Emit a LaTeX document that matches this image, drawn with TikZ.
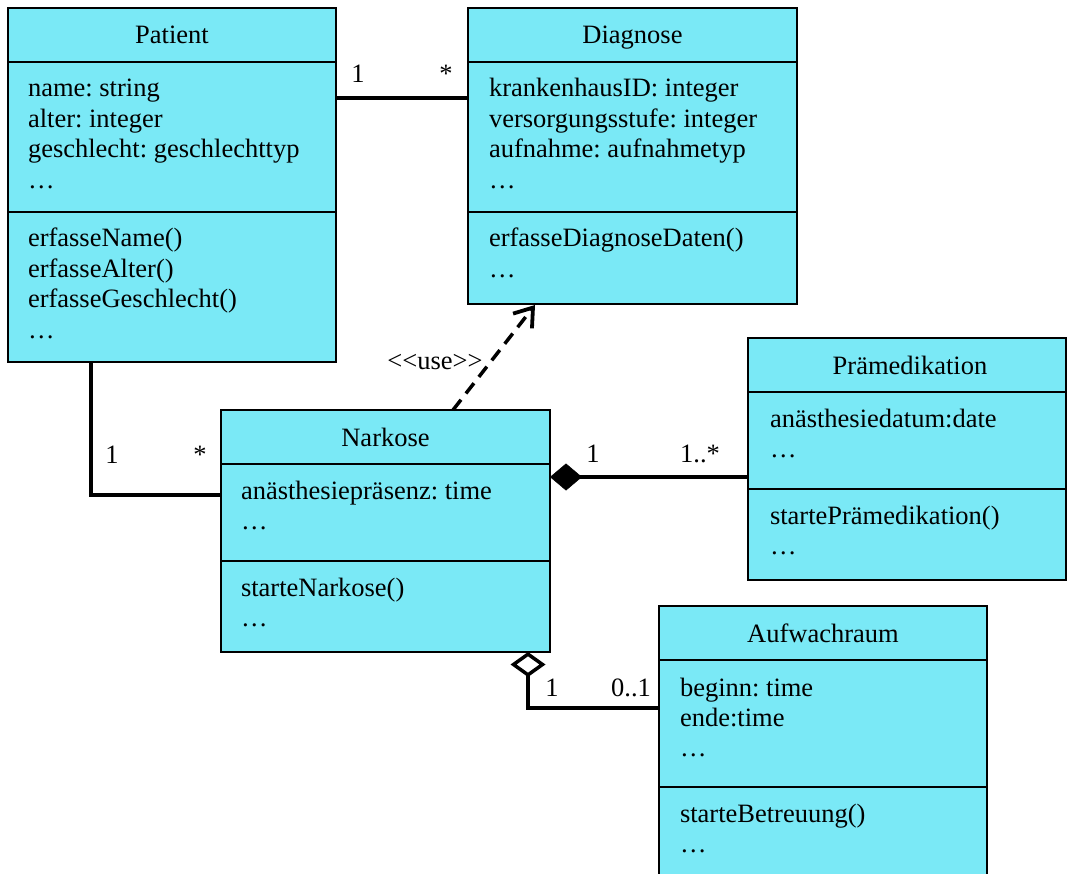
\documentclass[tikz,border=0pt]{standalone}
\usepackage{fontspec}
\setmainfont{Liberation Serif}
\usetikzlibrary{arrows.meta,calc}
\definecolor{classfill}{RGB}{122,233,246}
\frenchspacing
\begin{document}
\begin{tikzpicture}[x=1pt,y=-1pt,
  classbox/.style={draw=black, fill=classfill, line width=1.8pt, rectangle,
    inner sep=0pt, outer sep=0pt, anchor=north west},
  divider/.style={line width=1.8pt},
  txt/.style={font=\fontsize{26.5}{30}\selectfont, inner sep=0pt, outer sep=0pt, anchor=base west},
  ttl/.style={txt, anchor=base},
  mult/.style={txt, anchor=base},
  assoc/.style={line width=3.5pt},
  usedep/.style={line width=3.5pt, dash pattern=on 13pt off 8pt,
    -{Straight Barb[length=17pt,width=24pt,line width=3.8pt]}},
  compo/.style={assoc, {Diamond[length=32pt,width=27pt,line width=0.5pt]}-},
  aggr/.style={assoc, {Diamond[open,length=25pt,width=35pt,line width=3.5pt]}-}]

\useasboundingbox (0,0) rectangle (1067,874);
\clip (0,0) rectangle (1067,874);

% ---------- Patient ----------
\node[classbox, minimum width=328pt, minimum height=354pt] (patient) at (8,8) {};
\draw[divider] ($(patient.north west)+(0,54)$) -- ($(patient.north east)+(0,54)$);
\draw[divider] ($(patient.north west)+(0,204)$) -- ($(patient.north east)+(0,204)$);
\node[ttl] (patient-title) at (172,44) {Patient};
\node[txt] (patient-a1) at (28,97) {name: string};
\node[txt] (patient-a2) at (28,127.5) {alter: integer};
\node[txt] (patient-a3) at (28,158) {geschlecht: geschlechttyp};
\node[txt] (patient-a4) at (28,188.5) {…};
\node[txt] (patient-o1) at (28,247) {erfasseName()};
\node[txt] (patient-o2) at (28,277.5) {erfasseAlter()};
\node[txt] (patient-o3) at (28,308) {erfasseGeschlecht()};
\node[txt] (patient-o4) at (28,338.5) {…};

% ---------- Diagnose ----------
\node[classbox, minimum width=329pt, minimum height=296pt] (diagnose) at (468,8) {};
\draw[divider] ($(diagnose.north west)+(0,54)$) -- ($(diagnose.north east)+(0,54)$);
\draw[divider] ($(diagnose.north west)+(0,204)$) -- ($(diagnose.north east)+(0,204)$);
\node[ttl] (diagnose-title) at (632.5,44) {Diagnose};
\node[txt] (diagnose-a1) at (489,97) {krankenhausID: integer};
\node[txt] (diagnose-a2) at (489,127.5) {versorgungsstufe: integer};
\node[txt] (diagnose-a3) at (489,158) {aufnahme: aufnahmetyp};
\node[txt] (diagnose-a4) at (489,188.5) {…};
\node[txt] (diagnose-o1) at (489,247) {erfasseDiagnoseDaten()};
\node[txt] (diagnose-o2) at (489,277.5) {…};

% ---------- Narkose ----------
\node[classbox, minimum width=329pt, minimum height=242pt] (narkose) at (221,410) {};
\draw[divider] ($(narkose.north west)+(0,54)$) -- ($(narkose.north east)+(0,54)$);
\draw[divider] ($(narkose.north west)+(0,151)$) -- ($(narkose.north east)+(0,151)$);
\node[ttl] (narkose-title) at (385.5,446) {Narkose};
\node[txt] (narkose-a1) at (241,499) {anästhesiepräsenz: time};
\node[txt] (narkose-a2) at (241,529.5) {…};
\node[txt] (narkose-o1) at (241,596) {starteNarkose()};
\node[txt] (narkose-o2) at (241,626.5) {…};

% ---------- Prämedikation ----------
\node[classbox, minimum width=318pt, minimum height=242pt] (praem) at (748,338) {};
\draw[divider] ($(praem.north west)+(0,54)$) -- ($(praem.north east)+(0,54)$);
\draw[divider] ($(praem.north west)+(0,151)$) -- ($(praem.north east)+(0,151)$);
\node[ttl] (praem-title) at (910,374) {Prämedikation};
\node[txt] (praem-a1) at (770,427) {anästhesiedatum:date};
\node[txt] (praem-a2) at (770,457.5) {…};
\node[txt] (praem-o1) at (770,524) {startePrämedikation()};
\node[txt] (praem-o2) at (770,554.5) {…};

% ---------- Aufwachraum ----------
\node[classbox, minimum width=328pt, minimum height=290pt] (aufw) at (659,606) {};
\draw[divider] ($(aufw.north west)+(0,54)$) -- ($(aufw.north east)+(0,54)$);
\draw[divider] ($(aufw.north west)+(0,181)$) -- ($(aufw.north east)+(0,181)$);
\node[ttl] (aufw-title) at (823,642) {Aufwachraum};
\node[txt] (aufw-a1) at (680,696) {beginn: time};
\node[txt] (aufw-a2) at (680,726) {ende:time};
\node[txt] (aufw-a3) at (680,756.5) {…};
\node[txt] (aufw-o1) at (680,822) {starteBetreuung()};
\node[txt] (aufw-o2) at (680,852.5) {…};

% ---------- connectors ----------
% Patient -- Diagnose
\draw[assoc] ($(patient.north east)+(0,90)$) -- ($(diagnose.north west)+(0,90)$);
\node[mult] (m-pd1) at (358,83) {1};
\node[mult] (m-pd2) at (446,83) {*};

% Patient -- Narkose
\draw[assoc] ($(patient.south west)+(83,0)$) |- ($(narkose.north west)+(0,85)$);
\node[mult] (m-pn1) at (112,463) {1};
\node[mult] (m-pn2) at (200,463) {*};

% Narkose uses Diagnose
\draw[usedep] ($(narkose.north west)+(232,0)$) -- ($(diagnose.south west)+(67,1)$);
\node[mult] (use-label) at (435,369) {<{}<use>{}>};

% Narkose composed of Prämedikation
\draw[compo] ($(narkose.north east)+(0,67)$) -- ($(praem.north west)+(0,139)$);
\node[mult] (m-np1) at (593,462) {1};
\node[mult] (m-np2) at (700,462) {1..*};

% Narkose aggregates Aufwachraum
\draw[aggr] ($(narkose.south west)+(307,0)$) |- ($(aufw.north west)+(0,102)$);
\node[mult] (m-na1) at (552,696) {1};
\node[mult] (m-na2) at (631,696) {0..1};

\end{tikzpicture}
\end{document}
